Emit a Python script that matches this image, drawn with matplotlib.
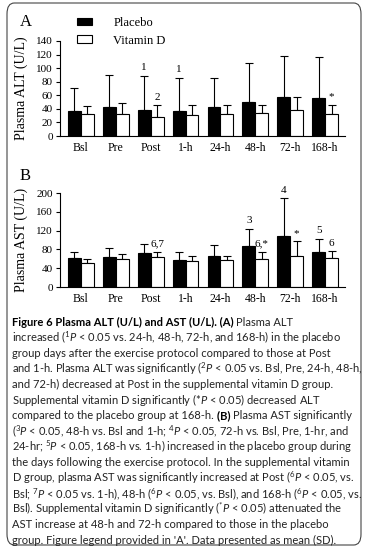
import matplotlib
matplotlib.use('Agg')
import matplotlib.pyplot as plt
from matplotlib.patches import Patch, FancyBboxPatch
import numpy as np

# time points
times = ['Bsl', 'Pre', 'Post', '1-h', '24-h', '48-h', '72-h', '168-h']

# Plasma ALT (U/L): mean and SD
alt_plac = [37, 43, 38, 37, 43, 50, 57, 56]
alt_plac_sd = [34, 47, 51, 49, 43, 57, 61, 61]
alt_vitd = [32, 32, 28, 31, 32, 34, 38, 32]
alt_vitd_sd = [12, 16, 17, 15, 13, 12, 19, 14]
alt_plac_lab = ['', '', '1', '1', '', '', '', '']
alt_vitd_lab = ['', '', '2', '', '', '', '', '*']

# Plasma AST (U/L): mean and SD
ast_plac = [62, 64, 72, 58, 66, 87, 108, 74]
ast_plac_sd = [12, 20, 20, 16, 24, 37, 81, 29]
ast_vitd = [51, 60, 64, 55, 57, 59, 66, 61]
ast_vitd_sd = [8, 10, 10, 10, 10, 15, 31, 15]
ast_plac_lab = ['', '', '', '', '', '3', '4', '5']
ast_vitd_lab = ['', '', '6,7', '', '', '6,*', '*', '6']

serif = 'Liberation Serif'
W, H = 365, 548

fig = plt.figure(figsize=(W / 100, H / 100), dpi=100)


def panel(rect, plac, plac_sd, vitd, vitd_sd, plac_lab, vitd_lab, ymax, step, ylabel):
    ax = fig.add_axes(rect)
    x = np.arange(len(times))
    w = 0.37
    ax.bar(x - w / 2, plac, w, color='black', edgecolor='black', linewidth=0.8, zorder=2)
    ax.bar(x + w / 2, vitd, w, color='white', edgecolor='black', linewidth=0.8, zorder=2)
    zeros = [0] * len(times)
    ax.errorbar(x - w / 2, plac, yerr=[zeros, plac_sd], fmt='none', ecolor='black',
                elinewidth=0.8, capsize=3, capthick=0.8, zorder=1)
    ax.errorbar(x + w / 2, vitd, yerr=[zeros, vitd_sd], fmt='none', ecolor='black',
                elinewidth=0.8, capsize=3, capthick=0.8, zorder=1)
    for i in range(len(times)):
        if plac_lab[i]:
            ax.annotate(plac_lab[i], (x[i] - w / 2, plac[i] + plac_sd[i]), xytext=(0, 2.5),
                        textcoords='offset points', ha='center', va='bottom',
                        fontsize=8, family=serif)
        if vitd_lab[i]:
            ax.annotate(vitd_lab[i], (x[i] + w / 2, vitd[i] + vitd_sd[i]), xytext=(0, 2.5),
                        textcoords='offset points', ha='center', va='bottom',
                        fontsize=8, family=serif)
    ax.set_xlim(-0.6, 7.57)
    ax.set_ylim(0, ymax)
    ax.set_yticks(np.arange(0, ymax + 1, step))
    ax.set_xticks(x)
    ax.set_xticklabels(times, family=serif, fontsize=8.5)
    for lab in ax.get_yticklabels():
        lab.set_family(serif)
        lab.set_fontsize(8)
    ax.tick_params(axis='x', length=0, pad=4)
    ax.tick_params(axis='y', length=3, width=0.8, pad=2)
    for s in ['top', 'right']:
        ax.spines[s].set_visible(False)
    for s in ['left', 'bottom']:
        ax.spines[s].set_linewidth(0.8)
    ax.set_ylabel(ylabel, family=serif, fontsize=10)
    ax.yaxis.set_label_coords(-0.112, 0.5)
    return ax


axA = panel([60 / W, 1 - 136 / H, 285 / W, 95 / H], alt_plac, alt_plac_sd, alt_vitd,
            alt_vitd_sd, alt_plac_lab, alt_vitd_lab, 140, 20, 'Plasma ALT (U/L)')
axB = panel([60 / W, 1 - 287 / H, 285 / W, 94 / H], ast_plac, ast_plac_sd, ast_vitd,
            ast_vitd_sd, ast_plac_lab, ast_vitd_lab, 200, 40, 'Plasma AST (U/L)')

fig.text(20 / W, 1 - 22 / H, 'A', family=serif, fontsize=12, va='center')
fig.text(20 / W, 1 - 176 / H, 'B', family=serif, fontsize=12, va='center')

handles = [Patch(facecolor='black', edgecolor='black', linewidth=0.8),
           Patch(facecolor='white', edgecolor='black', linewidth=0.8)]
axA.legend(handles, ['Placebo', 'Vitamin D'], loc='upper left',
           bbox_to_anchor=(77 / W, 1 - 17 / H), bbox_transform=fig.transFigure,
           frameon=False, borderpad=0, borderaxespad=0, handlelength=1.2,
           handleheight=0.55, handletextpad=1.7, labelspacing=0.45,
           prop={'family': serif, 'size': 9})

# caption
plt.rcParams['mathtext.fontset'] = 'custom'
plt.rcParams['mathtext.rm'] = 'Lato'
plt.rcParams['mathtext.it'] = 'Lato:italic'
plt.rcParams['mathtext.bf'] = 'Lato:bold'

caption = [
    [('Figure 6 Plasma ALT (U/L) and AST (U/L). (A) ', True), ('Plasma ALT', False)],
    [(r'increased ($^{1}P$ < 0.05 vs. 24-h, 48-h, 72-h, and 168-h) in the placebo', False)],
    [('group days after the exercise protocol compared to those at Post', False)],
    [(r'and 1-h. Plasma ALT was significantly ($^{2}P$ < 0.05 vs. Bsl, Pre, 24-h, 48-h,', False)],
    [('and 72-h) decreased at Post in the supplemental vitamin D group.', False)],
    [(r'Supplemental vitamin D significantly (*$P$ < 0.05) decreased ALT', False)],
    [('compared to the placebo group at 168-h. ', False), ('(B) ', True),
     ('Plasma AST significantly', False)],
    [(r'($^{3}P$ < 0.05, 48-h vs. Bsl and 1-h; $^{4}P$ < 0.05, 72-h vs. Bsl, Pre, 1-hr, and', False)],
    [(r'24-hr; $^{5}P$ < 0.05, 168-h vs. 1-h) increased in the placebo group during', False)],
    [('the days following the exercise protocol. In the supplemental vitamin', False)],
    [(r'D group, plasma AST was significantly increased at Post ($^{6}P$ < 0.05, vs.', False)],
    [(r'Bsl; $^{7}P$ < 0.05 vs. 1-h), 48-h ($^{6}P$ < 0.05, vs. Bsl), and 168-h ($^{6}P$ < 0.05, vs.', False)],
    [(r'Bsl). Supplemental vitamin D significantly ($^{*}P$ < 0.05) attenuated the', False)],
    [('AST increase at 48-h and 72-h compared to those in the placebo', False)],
    [("group. Figure legend provided in 'A'. Data presented as mean (SD).", False)],
]

fig.canvas.draw()
renderer = fig.canvas.get_renderer()
inv = fig.transFigure.inverted()
y0 = 322
for k, segs in enumerate(caption):
    xpos = 12 / W
    ypos = 1 - (y0 + k * 15.6) / H
    for txt, bold in segs:
        t = fig.text(xpos, ypos, txt, family='Lato', fontsize=8.05, va='center',
                     weight='bold' if bold else 'normal',
                     color='black' if bold else '#222222')
        bb = t.get_window_extent(renderer)
        xpos = inv.transform((bb.x1, bb.y0))[0]

box = FancyBboxPatch((7 / W, 3 / H), 354 / W, 542 / H, boxstyle='round,pad=0,rounding_size=0.02',
                     transform=fig.transFigure, facecolor='none', edgecolor='#444444',
                     linewidth=0.8)
fig.add_artist(box)

fig.savefig('out.png', dpi=100)
